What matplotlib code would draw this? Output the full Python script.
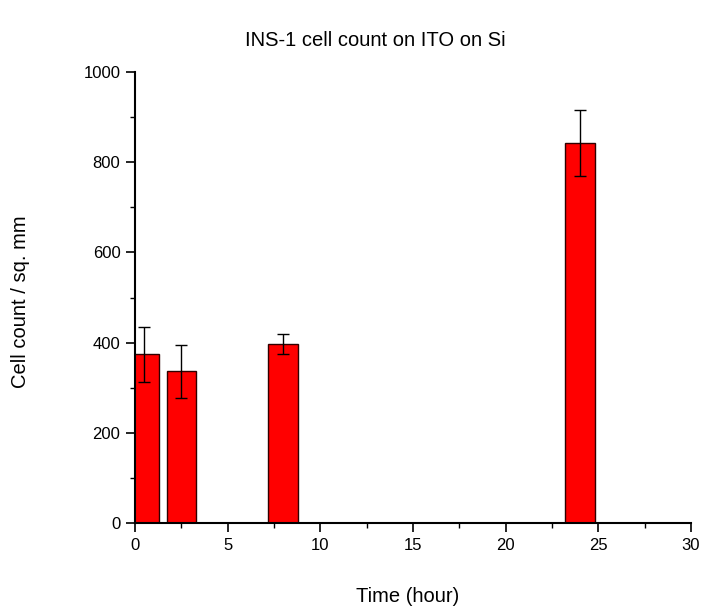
import matplotlib
matplotlib.use("Agg")
import matplotlib.pyplot as plt
from matplotlib.ticker import MultipleLocator

plt.rcParams['font.family'] = ['Liberation Sans', 'DejaVu Sans']

time_hours = [0.5, 2.5, 8, 24]
cell_counts = [374, 337, 397, 842]
count_errors = [60, 59, 23, 73]
bar_width = 1.6

fig = plt.figure(figsize=(7.04, 6.13), dpi=100)
ax = fig.add_axes([135/704, 1-523.3/613, 556/704, (523.3-71.8)/613])

ax.bar(time_hours, cell_counts, width=bar_width, color='#FF0000',
       edgecolor='#300000', linewidth=1.0, zorder=2)
ax.errorbar(time_hours, cell_counts, yerr=count_errors, fmt='none',
            ecolor='black', elinewidth=1.0, capsize=4.5, capthick=1.0, zorder=3)

ax.set_xlim(0, 30)
ax.set_ylim(0, 1000)
ax.xaxis.set_major_locator(MultipleLocator(5))
ax.xaxis.set_minor_locator(MultipleLocator(2.5))
ax.yaxis.set_major_locator(MultipleLocator(200))
ax.yaxis.set_minor_locator(MultipleLocator(100))

for s in ['top', 'right']:
    ax.spines[s].set_visible(False)
for s in ['left', 'bottom']:
    ax.spines[s].set_linewidth(1.5)

ax.tick_params(which='major', direction='out', length=6.5, width=1.2, labelsize=12, pad=4)
ax.tick_params(which='minor', direction='out', length=3.5, width=1.0)

fig.text(408/704, 1-597/613, 'Time (hour)', fontsize=14.5, ha='center', va='center')
fig.text(21/704, 1-302/613, 'Cell count / sq. mm', fontsize=14.5, ha='center',
         va='center', rotation=90)
fig.text(375/704, 1-41/613, 'INS-1 cell count on ITO on Si', fontsize=14.5,
         ha='center', va='center')

fig.savefig('out.png', dpi=100)
